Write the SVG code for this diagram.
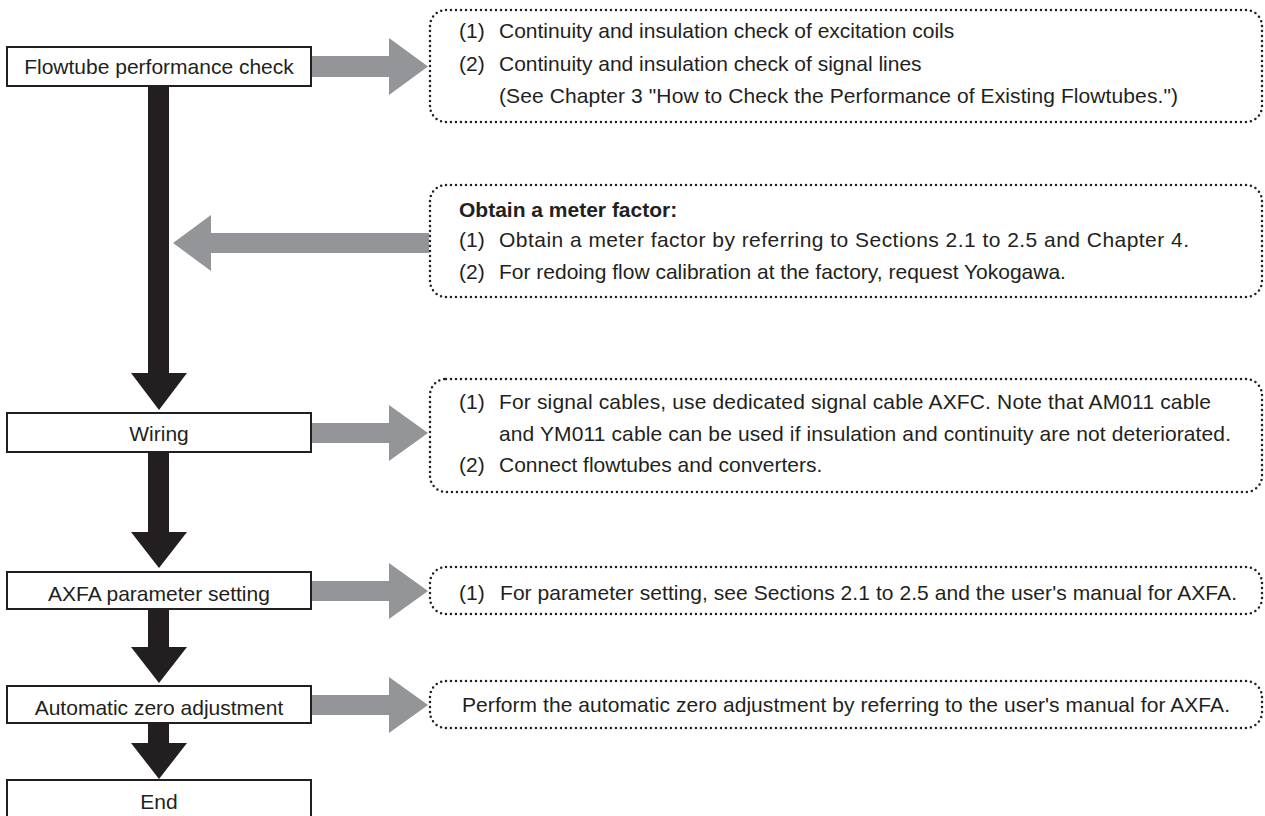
<svg xmlns="http://www.w3.org/2000/svg" width="1265" height="816" viewBox="0 0 1265 816">
<style>
.box{fill:#fff;stroke:#231f20;stroke-width:2}
.lbl{font-family:"Liberation Sans",Arial,sans-serif;font-size:21px;fill:#231f20;text-anchor:middle}
.note{fill:none;stroke:#231f20;stroke-width:2.5;stroke-dasharray:0 5;stroke-linecap:round}
.txt{font-family:"Liberation Sans",Arial,sans-serif;font-size:21px;fill:#231f20}
.bold{font-weight:bold}
.blk{fill:#231f20}
.gry{fill:#939598}
</style>
<rect width="1265" height="816" fill="#fff"/>
<g id="connectors">
<polygon class="blk" points="148,86 169,86 169,373 187,373 159,410 131,373 148,373"/>
<polygon class="blk" points="148,452 169,452 169,532 187,532 159,568 131,532 148,532"/>
<polygon class="blk" points="148,609 169,609 169,647 187,647 159,683 131,647 148,647"/>
<polygon class="blk" points="148,723 169,723 169,743 187,743 159,779 131,743 148,743"/>
<polygon class="gry" points="311,56 389,56 389,38 428,66.5 389,95 389,77 311,77"/>
<polygon class="gry" points="429,233 211,233 211,215 173,243 211,271 211,253 429,253"/>
<polygon class="gry" points="311,423 389,423 389,405 428,433 389,461 389,443 311,443"/>
<polygon class="gry" points="311,581 389,581 389,563 428,591 389,619 389,601 311,601"/>
<polygon class="gry" points="311,695 389,695 389,677 428,705 389,733 389,715 311,715"/>
</g>
<g id="n-flowtube">
<rect class="box" x="7" y="47" width="304" height="39"/>
<text class="lbl" x="159" y="74">Flowtube performance check</text>
</g>
<g id="n-wiring">
<rect class="box" x="7" y="413" width="304" height="39"/>
<text class="lbl" x="159" y="441">Wiring</text>
</g>
<g id="n-axfa">
<rect class="box" x="7" y="572" width="304" height="37"/>
<text class="lbl" x="159" y="601">AXFA parameter setting</text>
</g>
<g id="n-zero">
<rect class="box" x="7" y="686" width="304" height="37"/>
<text class="lbl" x="159" y="715">Automatic zero adjustment</text>
</g>
<g id="n-end">
<rect class="box" x="7" y="780" width="304" height="39"/>
<text class="lbl" x="159" y="809">End</text>
</g>
<g id="note-check">
<rect class="note" x="430" y="10" width="832" height="112" rx="16"/>
<text class="txt" x="459" y="38">(1)</text>
<text class="txt" x="499" y="38">Continuity and insulation check of excitation coils</text>
<text class="txt" x="459" y="71">(2)</text>
<text class="txt" x="499" y="71">Continuity and insulation check of signal lines</text>
<text class="txt" x="499" y="103" textLength="679" lengthAdjust="spacing">(See Chapter 3 "How to Check the Performance of Existing Flowtubes.")</text>
</g>
<g id="note-meter">
<rect class="note" x="430" y="185" width="832" height="112" rx="16"/>
<text class="txt bold" x="459" y="217">Obtain a meter factor:</text>
<text class="txt" x="459" y="247">(1)</text>
<text class="txt" x="499" y="247" textLength="690" lengthAdjust="spacing">Obtain a meter factor by referring to Sections 2.1 to 2.5 and Chapter 4.</text>
<text class="txt" x="459" y="279">(2)</text>
<text class="txt" x="499" y="279">For redoing flow calibration at the factory, request Yokogawa.</text>
</g>
<g id="note-wiring">
<rect class="note" x="430" y="379" width="832" height="113" rx="16"/>
<text class="txt" x="459" y="409">(1)</text>
<text class="txt" x="499" y="409" textLength="712" lengthAdjust="spacing">For signal cables, use dedicated signal cable AXFC. Note that AM011 cable</text>
<text class="txt" x="499" y="441" textLength="732" lengthAdjust="spacing">and YM011 cable can be used if insulation and continuity are not deteriorated.</text>
<text class="txt" x="459" y="472">(2)</text>
<text class="txt" x="499" y="472">Connect flowtubes and converters.</text>
</g>
<g id="note-axfa">
<rect class="note" x="430" y="567" width="832" height="47" rx="16"/>
<text class="txt" x="459" y="600">(1)</text>
<text class="txt" x="500" y="600" textLength="737" lengthAdjust="spacing">For parameter setting, see Sections 2.1 to 2.5 and the user's manual for AXFA.</text>
</g>
<g id="note-zero">
<rect class="note" x="430" y="681" width="832" height="47" rx="16"/>
<text class="txt" x="462" y="712" textLength="768" lengthAdjust="spacing">Perform the automatic zero adjustment by referring to the user's manual for AXFA.</text>
</g>
</svg>
